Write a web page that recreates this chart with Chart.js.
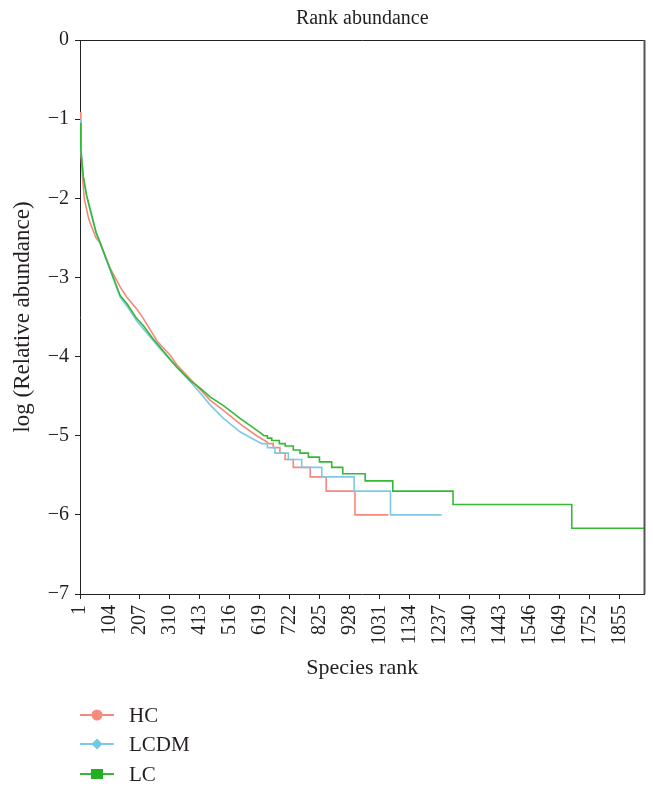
<!DOCTYPE html>
<html>
<head>
<meta charset="utf-8">
<script src="https://cdn.jsdelivr.net/npm/chart.js@4.4.0/dist/chart.umd.min.js"></script>
<style>
  html, body { margin: 0; padding: 0; background: #fff; }
</style>
</head>
<body>
<canvas id="chart" width="653" height="786"></canvas>
<script>
// axis ticks
const rankTicks = [1, 104, 207, 310, 413, 516, 619, 722, 825, 928, 1031, 1134, 1237, 1340, 1443, 1546, 1649, 1752, 1855];
const logTicks = [0, -1, -2, -3, -4, -5, -6, -7];
const rankMax = 1941;

// HC: upper curve (rank, log10 relative abundance), then the stepped tail
const hcRank = [1, 4, 10, 16, 31, 40, 56, 70, 104, 139, 162, 196, 219, 242, 265, 310, 333, 379, 448, 494, 551, 608, 640];
const hcLog = [-0.91, -1.40, -1.75, -2.01, -2.26, -2.35, -2.50, -2.56, -2.88, -3.12, -3.25, -3.40, -3.52, -3.66, -3.80, -3.98, -4.10, -4.28, -4.55, -4.68, -4.85, -5.00, -5.07];
const hcStepRank = [650, 665, 688, 706, 734, 792, 847, 946];
const hcStepLog = [-5.10, -5.15, -5.22, -5.30, -5.40, -5.52, -5.70, -6.00];
const hcLastRank = 1061;

// LCDM
const lcdmRank = [1, 4, 12, 24, 39, 56, 70, 104, 139, 162, 196, 219, 253, 276, 310, 333, 379, 414, 448, 494, 551, 600];
const lcdmLog = [-1.00, -1.38, -1.72, -1.97, -2.20, -2.43, -2.57, -2.90, -3.25, -3.36, -3.55, -3.65, -3.80, -3.90, -4.04, -4.13, -4.31, -4.46, -4.61, -4.78, -4.95, -5.05];
const lcdmStepRank = [626, 645, 671, 717, 763, 832, 943, 1068];
const lcdmStepLog = [-5.10, -5.15, -5.22, -5.30, -5.40, -5.52, -5.70, -6.00];
const lcdmLastRank = 1244;

// LC
const lcRank = [1, 4, 12, 24, 39, 56, 70, 104, 139, 162, 196, 219, 253, 276, 310, 333, 379, 414, 448, 494, 551, 608, 620];
const lcLog = [-1.05, -1.38, -1.72, -1.97, -2.18, -2.43, -2.56, -2.89, -3.23, -3.33, -3.52, -3.61, -3.78, -3.88, -4.03, -4.13, -4.30, -4.40, -4.51, -4.62, -4.78, -4.93, -4.96];
const lcStepRank = [633, 645, 660, 686, 706, 734, 757, 786, 824, 866, 904, 981, 1076, 1283, 1691];
const lcStepLog = [-5.00, -5.03, -5.06, -5.10, -5.13, -5.18, -5.22, -5.27, -5.33, -5.40, -5.48, -5.57, -5.70, -5.87, -6.17];
const lcLastRank = rankMax;

const FONT = '"Liberation Serif", "Times New Roman", serif';
const TEXT = '#231f20';

function buildPoints(ranks, logs, stepRanks, stepLogs, lastRank) {
  const pts = ranks.map((r, i) => ({ x: r, y: logs[i] }));
  stepRanks.forEach((r, i) => {
    const end = i + 1 < stepRanks.length ? stepRanks[i + 1] : lastRank;
    pts.push({ x: r, y: stepLogs[i] });
    pts.push({ x: end, y: stepLogs[i] });
  });
  return pts;
}

const series = [
  { label: 'HC', color: '#f8877b', marker: '#f98a7e', shape: 'circle', order: 2,
    data: buildPoints(hcRank, hcLog, hcStepRank, hcStepLog, hcLastRank) },
  { label: 'LCDM', color: '#7ccae6', marker: '#72c8e8', shape: 'diamond', order: 1,
    data: buildPoints(lcdmRank, lcdmLog, lcdmStepRank, lcdmStepLog, lcdmLastRank) },
  { label: 'LC', color: '#35b935', marker: '#22b022', shape: 'square', order: 0,
    data: buildPoints(lcRank, lcLog, lcStepRank, lcStepLog, lcLastRank) }
];

// top and right edges of the plot box
const frame = {
  id: 'frame',
  afterDatasetsDraw(chart) {
    const { ctx, chartArea: a } = chart;
    ctx.save();
    ctx.strokeStyle = '#222';
    ctx.lineWidth = 1;
    ctx.beginPath();
    ctx.moveTo(a.left, a.top + 0.5);
    ctx.lineTo(a.right, a.top + 0.5);
    ctx.stroke();
    ctx.strokeStyle = '#555';
    ctx.lineWidth = 2;
    ctx.beginPath();
    ctx.moveTo(a.right, a.top);
    ctx.lineTo(a.right, a.bottom);
    ctx.stroke();
    ctx.restore();
  }
};

// vertical legend under the axis title
const legendBelow = {
  id: 'legendBelow',
  afterDraw(chart) {
    const ctx = chart.ctx;
    const rows = [715, 744, 774];
    ctx.save();
    series.forEach((s, i) => {
      const y = rows[i];
      ctx.strokeStyle = s.color;
      ctx.lineWidth = 2;
      ctx.beginPath();
      ctx.moveTo(80, y);
      ctx.lineTo(114, y);
      ctx.stroke();
      ctx.fillStyle = s.marker;
      const cx = 97;
      if (s.shape === 'circle') {
        ctx.beginPath();
        ctx.arc(cx, y, 5.5, 0, Math.PI * 2);
        ctx.fill();
      } else if (s.shape === 'diamond') {
        ctx.beginPath();
        ctx.moveTo(cx, y - 5.5);
        ctx.lineTo(cx + 5.5, y);
        ctx.lineTo(cx, y + 5.5);
        ctx.lineTo(cx - 5.5, y);
        ctx.closePath();
        ctx.fill();
      } else {
        ctx.fillRect(cx - 6, y - 5, 12, 10);
      }
      ctx.fillStyle = TEXT;
      ctx.font = '21px ' + FONT;
      ctx.textBaseline = 'middle';
      ctx.textAlign = 'left';
      ctx.fillText(s.label, 129, y + 1);
    });
    ctx.restore();
  }
};

new Chart(document.getElementById('chart').getContext('2d'), {
  type: 'line',
  data: {
    datasets: series.map(s => ({
      label: s.label,
      data: s.data,
      order: s.order,
      borderColor: s.color,
      borderWidth: 1.6,
      pointRadius: 0,
      tension: 0,
      fill: false
    }))
  },
  options: {
    responsive: false,
    devicePixelRatio: 1,
    animation: false,
    events: [],
    layout: { padding: { left: 0, right: 8.5, top: 0, bottom: 102 } },
    plugins: {
      legend: { display: false },
      tooltip: { enabled: false },
      title: {
        display: true,
        fullSize: false,
        text: 'Rank abundance',
        color: TEXT,
        font: { family: FONT, size: 20, weight: 'normal' },
        padding: { top: 7, bottom: 9 }
      }
    },
    scales: {
      x: {
        type: 'linear',
        min: 1,
        max: rankMax,
        afterBuildTicks: axis => { axis.ticks = rankTicks.map(v => ({ value: v })); },
        afterFit: s => { s.height = 90; },
        ticks: {
          autoSkip: false,
          minRotation: 90,
          maxRotation: 90,
          padding: 6,
          color: TEXT,
          font: { family: FONT, size: 20 },
          callback: v => String(v)
        },
        grid: { drawOnChartArea: false, drawTicks: true, tickLength: 5, color: '#222' },
        border: { color: '#222', width: 1 },
        title: {
          display: true,
          text: 'Species rank',
          color: TEXT,
          font: { family: FONT, size: 22 },
          padding: { top: 0, bottom: 3 }
        }
      },
      y: {
        min: -7,
        max: 0,
        afterBuildTicks: axis => { axis.ticks = logTicks.map(v => ({ value: v })); },
        afterFit: s => { s.width = 80; },
        ticks: {
          padding: 6,
          color: TEXT,
          font: { family: FONT, size: 20 },
          callback: v => (v < 0 ? '\u2212' + Math.abs(v) : String(v))
        },
        grid: { drawOnChartArea: false, drawTicks: true, tickLength: 5, color: '#222' },
        border: { color: '#222', width: 1 },
        title: {
          display: true,
          text: 'log (Relative abundance)',
          color: TEXT,
          font: { family: FONT, size: 23 },
          padding: { top: 9, bottom: 0 }
        }
      }
    }
  },
  plugins: [frame, legendBelow]
});
</script>
</body>
</html>
